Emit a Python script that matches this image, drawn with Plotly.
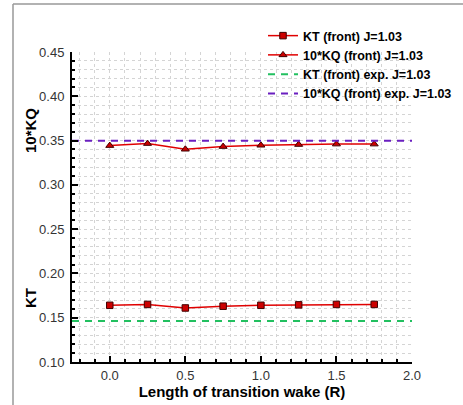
import plotly.graph_objects as go

x_len = [0.0, 0.25, 0.5, 0.75, 1.0, 1.25, 1.5, 1.75]
kt_front = [0.164, 0.165, 0.161, 0.163, 0.164, 0.1645, 0.165, 0.165]
kq10_front = [0.3443, 0.3466, 0.3402, 0.3432, 0.3447, 0.3455, 0.346, 0.346]
kt_exp = 0.1463
kq10_exp = 0.3497
x_exp = [-0.25, 2.0]

W, H = 463, 405
L, R, T, B = 72, 51, 52, 43
pw, ph = W - L - R, H - T - B

def px(xp):
    return (xp - L) / pw

def py(yp):
    return (H - B - yp) / ph

FONT = "Liberation Sans, Arial"

fig = go.Figure()
fig.add_trace(go.Scatter(
    x=x_len, y=kt_front, mode="lines+markers", name="KT (front) J=1.03",
    line=dict(color="#e00000", width=1.5),
    marker=dict(symbol="square", size=6.5, color="#cc0000", line=dict(color="#400000", width=1)),
))
fig.add_trace(go.Scatter(
    x=x_len, y=kq10_front, mode="lines+markers", name="10*KQ (front) J=1.03",
    line=dict(color="#e00000", width=1.5),
    marker=dict(symbol="triangle-up", size=7, color="#cc0000", line=dict(color="#400000", width=1)),
))
fig.add_trace(go.Scatter(
    x=x_exp, y=[kt_exp, kt_exp], mode="lines", name="KT (front) exp. J=1.03",
    line=dict(color="#22c060", width=2, dash="7px,6px"),
))
fig.add_trace(go.Scatter(
    x=x_exp, y=[kq10_exp, kq10_exp], mode="lines", name="10*KQ (front) exp. J=1.03",
    line=dict(color="#6a1fc0", width=2, dash="7px,6px"),
))

grid = dict(griddash="dot", gridcolor="#d4d4d4", gridwidth=1)
fig.update_xaxes(
    range=[-0.25, 2.0], dtick=0.5, tickformat=".1f", automargin=False,
    showline=True, linecolor="black", linewidth=2,
    ticks="inside", ticklen=6, tickwidth=2, tickcolor="black",
    showgrid=True, **grid, zeroline=False,
    minor=dict(dtick=0.1, showgrid=True, ticks="inside", ticklen=3, tickcolor="black", **grid),
    tickfont=dict(family=FONT, size=13, color="#333"),
    title=dict(text="<b>Length of transition wake (R)</b>", font=dict(family=FONT, size=15, color="black"), standoff=2),
)
fig.update_yaxes(
    range=[0.10, 0.45], dtick=0.05, tickformat=".2f", automargin=False,
    showline=True, linecolor="black", linewidth=2,
    ticks="inside", ticklen=6, tickwidth=2, tickcolor="black",
    showgrid=True, **grid, zeroline=False,
    minor=dict(dtick=0.01, showgrid=True, ticks="inside", ticklen=3, tickcolor="black", **grid),
    tickfont=dict(family=FONT, size=13, color="#333"),
    ticklabelstandoff=3,
)

fig.add_annotation(text="<b>10*KQ</b>", x=px(30), y=py(131), xref="paper", yref="paper",
                   xanchor="center", yanchor="middle",
                   textangle=-90, showarrow=False, font=dict(family=FONT, size=15, color="black"))
fig.add_annotation(text="<b>KT</b>", x=px(30), y=py(298), xref="paper", yref="paper",
                   xanchor="center", yanchor="middle",
                   textangle=-90, showarrow=False, font=dict(family=FONT, size=15, color="black"))

# outer frame (top and left visible)
fig.add_shape(type="line", xref="paper", yref="paper", x0=px(13), x1=px(13), y0=py(H + 5), y1=py(4),
              line=dict(color="#999999", width=1.5))
fig.add_shape(type="line", xref="paper", yref="paper", x0=px(13), x1=px(W + 5), y0=py(4), y1=py(4),
              line=dict(color="#999999", width=1.5))

fig.update_layout(
    width=W, height=H,
    margin=dict(l=L, r=R, t=T, b=B, autoexpand=False),
    plot_bgcolor="white", paper_bgcolor="white",
    showlegend=True,
    legend=dict(x=px(263), y=py(21), xanchor="left", yanchor="top",
                bgcolor="rgba(0,0,0,0)", tracegroupgap=0,
                font=dict(family=FONT, size=12.5, color="black", weight="bold")),
)

fig.write_html("out.html")
